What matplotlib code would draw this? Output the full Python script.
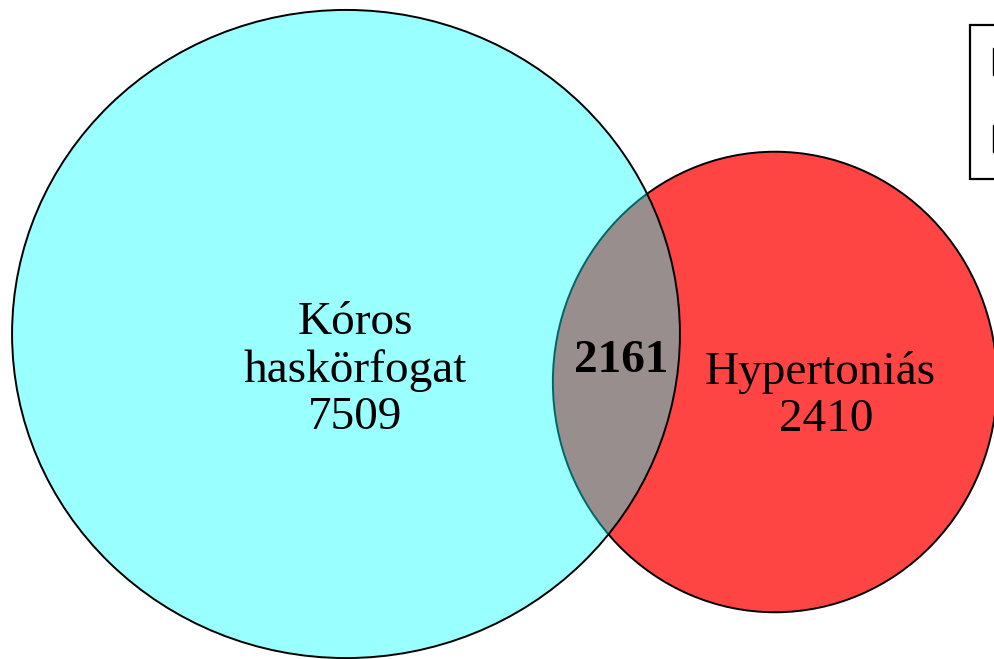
import numpy as np
import matplotlib
matplotlib.use("Agg")
import matplotlib.pyplot as plt
from matplotlib.patches import Ellipse, Patch

# set data (exclusive counts + shared part)
set_names = ["Kóros\nhaskörfogat", "Hypertoniás"]
legend_names = ["Kóros haskörfogat", "Hypertoniás"]
only_counts = [7509, 2410]
shared_count = 2161
set_colors = [(0.0, 1.0, 1.0, 0.4), "#ff4444"]

plt.rcParams["font.family"] = ["Liberation Serif", "DejaVu Serif"]

fig = plt.figure(figsize=(9.95, 6.59), dpi=100)
ax = fig.add_axes([0, 0, 1, 1])
ax.set_xlim(0, 995)
ax.set_ylim(659, 0)
ax.set_aspect("equal")
ax.axis("off")

# shape areas proportional to set totals
totals = np.array(only_counts) + shared_count
scale = 329 / np.sqrt(totals[0])
radii = scale * np.sqrt(totals)
centers = [(346, 334), (775, 382)]
stretch = [(1.015, 0.985), (0.982, 1.018)]  # original shapes are slightly squashed

# red first, translucent cyan on top
for i in (1, 0):
    sx, sy = stretch[i]
    ax.add_patch(Ellipse(centers[i], 2 * radii[i] * sx, 2 * radii[i] * sy,
                         facecolor=set_colors[i], edgecolor="black", lw=1.4,
                         zorder=2 - i))

# va="baseline" pins the last line's baseline here
ax.text(355, 429, f"{set_names[0]}\n{only_counts[0]}", ha="center", va="baseline",
        fontsize=34, linespacing=1.15, zorder=3)
ax.text(820, 431, f"{set_names[1]}\n {only_counts[1]}", ha="center", va="baseline",
        fontsize=34, linespacing=1.15, zorder=3)
ax.text(621, 372, str(shared_count), ha="center", va="baseline",
        fontsize=34, fontweight="bold", zorder=3)

handles = [Patch(facecolor="#99ffff", edgecolor="black"),
           Patch(facecolor=set_colors[1], edgecolor="black")]
leg = fig.legend(handles, legend_names, loc="upper left",
                 bbox_to_anchor=(970 / 995, 1 - 25 / 659), borderaxespad=0,
                 fancybox=False, framealpha=1, edgecolor="black", fontsize=22,
                 borderpad=0.75, handleheight=1.0, labelspacing=1.5)
leg.get_frame().set_linewidth(1.6)

fig.savefig("out.png", dpi=100)
